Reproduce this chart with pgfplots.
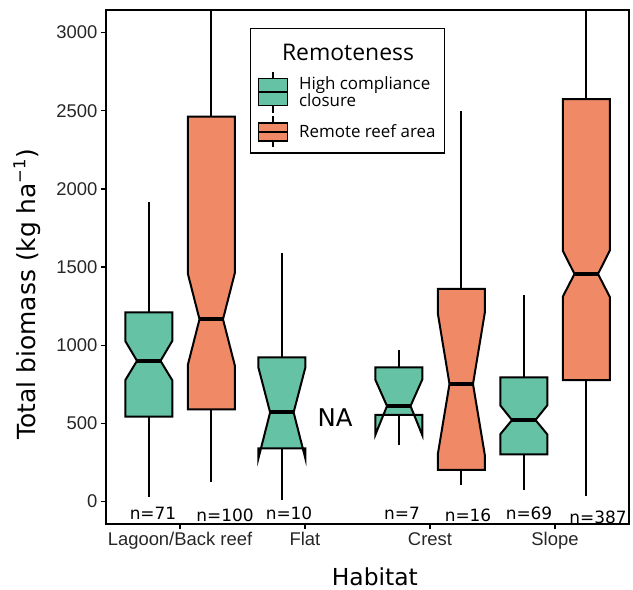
\documentclass[border=0pt]{standalone}
\usepackage{pgfplots}
\pgfplotsset{compat=1.18}
\usepackage{fontspec}
\setmainfont{Liberation Sans}
\newfontfamily\dejavu{DejaVu Sans}
\newfontfamily\osans{Open Sans}
\definecolor{cgreen}{HTML}{66C2A5}
\definecolor{corange}{HTML}{F08A66}
\begin{document}
\begin{tikzpicture}
\useasboundingbox (0,0) rectangle (633bp,590bp);
\begin{axis}[
  at={(106bp,66bp)}, anchor=south west,
  scale only axis, width=523bp, height=514bp,
  xmin=0.408, xmax=4.592, ymin=-144, ymax=3145,
  xtick={1,2,3,4}, xticklabels={Lagoon/Back reef,Flat,Crest,Slope},
  ytick={0,500,1000,1500,2000,2500,3000},
  xtick pos=bottom, ytick pos=left,
  tick align=outside, major tick length=5bp,
  tick style={black, line width=1.3bp},
  axis line style={black, line width=1.5bp},
  ticklabel style={font=\fontsize{18.5}{20}\selectfont, text=black!85},
  /pgf/number format/assume math mode=true,
  scaled y ticks=false,
  yticklabel style={/pgf/number format/.cd, set thousands separator={}},
  xlabel={\dejavu\fontsize{23.5}{25}\selectfont Habitat},
  ylabel={\dejavu\fontsize{25}{27}\selectfont Total biomass (kg ha\raisebox{0.75ex}{\fontsize{16.5}{16.5}\selectfont \dejavu −1})},
  xlabel style={at={(axis description cs:0.514,-0.103)}, anchor=center},
  ylabel style={at={(axis description cs:-0.151,0.447)}, anchor=center, rotate=0},
  legend style={at={(axis description cs:0.2753,0.965)}, anchor=north west,
    draw=black, line width=1.2bp, fill=white,
    font=\osans\fontsize{17}{17}\selectfont,
    cells={align=left, anchor=west},
    inner xsep=7bp, inner ysep=5bp, row sep=2bp},
  clip=true,
]
% ---- whiskers ----
\addplot[forget plot, line width=1.9bp] coordinates {(0.75,1210) (0.75,1916)};
\addplot[forget plot, line width=1.9bp] coordinates {(0.75,543) (0.75,27)};
\addplot[forget plot, line width=1.9bp] coordinates {(1.25,2462) (1.25,3400)};
\addplot[forget plot, line width=1.9bp] coordinates {(1.25,590) (1.25,123)};
\addplot[forget plot, line width=1.9bp] coordinates {(1.815,922) (1.815,1588)};
\addplot[forget plot, line width=1.9bp] coordinates {(1.815,340) (1.815,10)};
\addplot[forget plot, line width=1.9bp] coordinates {(2.75,859) (2.75,969)};
\addplot[forget plot, line width=1.9bp] coordinates {(2.75,555) (2.75,361)};
\addplot[forget plot, line width=1.9bp] coordinates {(3.25,1360) (3.25,2498)};
\addplot[forget plot, line width=1.9bp] coordinates {(3.25,202) (3.25,106)};
\addplot[forget plot, line width=1.9bp] coordinates {(3.75,795) (3.75,1321)};
\addplot[forget plot, line width=1.9bp] coordinates {(3.75,302) (3.75,74)};
\addplot[forget plot, line width=1.9bp] coordinates {(4.25,2575) (4.25,3400)};
\addplot[forget plot, line width=1.9bp] coordinates {(4.25,777) (4.25,37)};
% ---- notched boxes ----
\addplot[forget plot, fill=cgreen, draw=black, line width=2bp, line join=miter] coordinates {
 (0.562,1210) (0.562,1027) (0.656,900) (0.562,776) (0.562,543)
 (0.938,543) (0.938,776) (0.844,900) (0.938,1027) (0.938,1210)} -- cycle;
\addplot[forget plot, fill=corange, draw=black, line width=2bp, line join=miter] coordinates {
 (1.062,2462) (1.062,1460) (1.156,1166) (1.062,872) (1.062,590)
 (1.438,590) (1.438,872) (1.344,1166) (1.438,1460) (1.438,2462)} -- cycle;
\addplot[forget plot, fill=cgreen, draw=black, line width=2bp, line join=miter] coordinates {
 (1.627,922) (1.627,858) (1.721,570) (1.627,275) (1.627,340)
 (2.003,340) (2.003,275) (1.909,570) (2.003,858) (2.003,922)} -- cycle;
\addplot[forget plot, fill=cgreen, draw=black, line width=2bp, line join=miter] coordinates {
 (2.562,859) (2.562,780) (2.656,611) (2.562,425) (2.562,555)
 (2.938,555) (2.938,425) (2.844,611) (2.938,780) (2.938,859)} -- cycle;
\addplot[forget plot, fill=corange, draw=black, line width=2bp, line join=miter] coordinates {
 (3.062,1360) (3.062,1206) (3.156,752) (3.062,300) (3.062,202)
 (3.438,202) (3.438,300) (3.344,752) (3.438,1206) (3.438,1360)} -- cycle;
\addplot[forget plot, fill=cgreen, draw=black, line width=2bp, line join=miter] coordinates {
 (3.562,795) (3.562,615) (3.656,521) (3.562,430) (3.562,302)
 (3.938,302) (3.938,430) (3.844,521) (3.938,615) (3.938,795)} -- cycle;
\addplot[forget plot, fill=corange, draw=black, line width=2bp, line join=miter] coordinates {
 (4.062,2575) (4.062,1605) (4.156,1456) (4.062,1310) (4.062,777)
 (4.438,777) (4.438,1310) (4.344,1456) (4.438,1605) (4.438,2575)} -- cycle;
% ---- medians ----
\addplot[forget plot, line width=4bp] coordinates {(0.656,900) (0.844,900)};
\addplot[forget plot, line width=4bp] coordinates {(1.156,1166) (1.344,1166)};
\addplot[forget plot, line width=4bp] coordinates {(1.721,570) (1.909,570)};
\addplot[forget plot, line width=4bp] coordinates {(2.656,611) (2.844,611)};
\addplot[forget plot, line width=4bp] coordinates {(3.156,752) (3.344,752)};
\addplot[forget plot, line width=4bp] coordinates {(3.656,521) (3.844,521)};
\addplot[forget plot, line width=4bp] coordinates {(4.156,1456) (4.344,1456)};
% ---- sample sizes ----
\node[font=\dejavu\fontsize{17}{18}\selectfont] at (axis cs:0.784,-74) {n=71};
\node[font=\dejavu\fontsize{17}{18}\selectfont] at (axis cs:1.360,-86) {n=100};
\node[font=\dejavu\fontsize{17}{18}\selectfont] at (axis cs:1.872,-74) {n=10};
\node[font=\dejavu\fontsize{17}{18}\selectfont] at (axis cs:2.776,-74) {n=7};
\node[font=\dejavu\fontsize{17}{18}\selectfont] at (axis cs:3.304,-86) {n=16};
\node[font=\dejavu\fontsize{17}{18}\selectfont] at (axis cs:3.792,-74) {n=69};
\node[font=\dejavu\fontsize{17}{18}\selectfont] at (axis cs:4.344,-99) {n=387};
\node[font=\dejavu\fontsize{24.5}{26}\selectfont] at (axis cs:2.24,540) {NA};
% ---- legend ----
\addlegendimage{legend image code/.code={\path (0bp,-15bp) (0bp,19bp);}}
\addlegendentry{\hspace*{-17bp}\fontsize{23}{26}\selectfont Remoteness}
\addlegendimage{legend image code/.code={
  \path (38bp,0bp);
  \draw[line width=1.6bp] (14.5bp,-20.5bp) -- (14.5bp,20.5bp);
  \filldraw[fill=cgreen, line width=1.8bp] (0bp,-13.5bp) rectangle (29bp,13.5bp);
  \draw[line width=1.8bp] (0bp,0bp) -- (29bp,0bp);}}
\addlegendentry{High compliance\\closure}
\addlegendimage{legend image code/.code={
  \path (38bp,0bp);
  \draw[line width=1.6bp] (14.5bp,-15.5bp) -- (14.5bp,15.5bp);
  \filldraw[fill=corange, line width=1.8bp] (0bp,-9bp) rectangle (29bp,9bp);
  \draw[line width=1.8bp] (0bp,0bp) -- (29bp,0bp);}}
\addlegendentry{Remote reef area}
\end{axis}
\end{tikzpicture}
\end{document}
